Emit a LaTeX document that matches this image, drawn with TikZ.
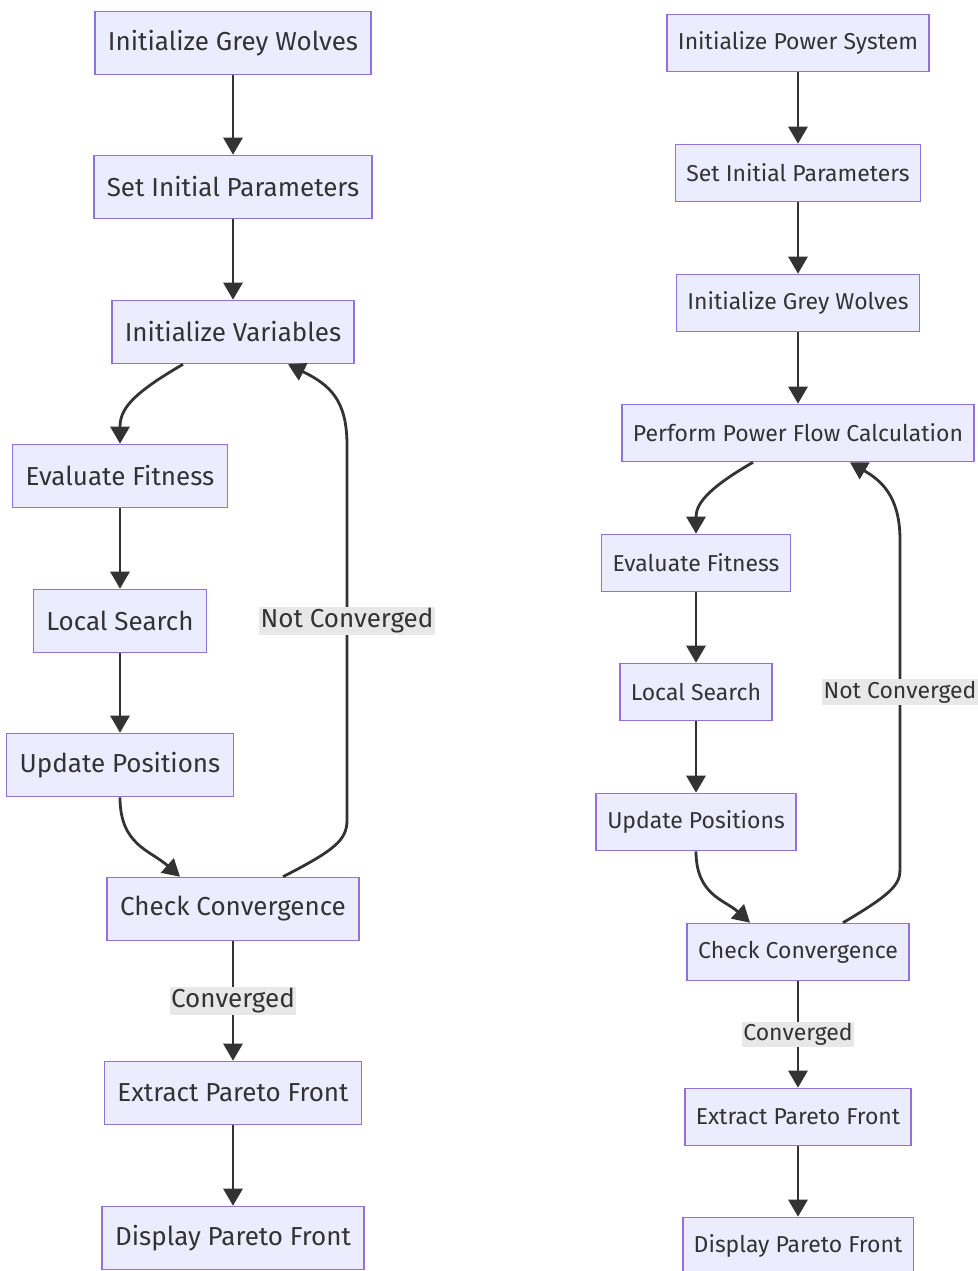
\documentclass[tikz,border=0pt]{standalone}
\usepackage{fontspec}
\setmainfont{Fira Sans}
\usepackage{tikz}
\usetikzlibrary{arrows.meta}
\usetikzlibrary{calc}
\usetikzlibrary{positioning}

\definecolor{boxfill}{HTML}{ECECFF}
\definecolor{boxline}{HTML}{9370DB}
\definecolor{ink}{HTML}{333333}
\definecolor{labelbg}{HTML}{E8E8E8}

\begin{document}
\begin{tikzpicture}[x=1pt,y=-1pt,>={Triangle[width=19pt,length=17pt]},
  box/.style={draw=boxline,fill=boxfill,line width=1.6pt,text=ink,inner xsep=13pt,minimum height=63pt,font=\fontsize{26}{30}\selectfont},
  rbox/.style={box,inner xsep=11pt,minimum height=57pt,font=\fontsize{23}{27}\selectfont},
  link/.style={->,draw=ink,line width=2.8pt},
  tag/.style={fill=labelbg,text=ink,inner sep=1.5pt,font=\fontsize{26}{30}\selectfont},
  rtag/.style={tag,font=\fontsize{23}{27}\selectfont}]
\useasboundingbox[fill=white] (0,0) rectangle (977,1271);

%left flowchart
\begin{scope}
\node[box] (l1) at (233,43) {Initialize Grey Wolves};
\node[box] (l2) at (233,187) {Set Initial Parameters};
\node[box] (l3) at (233,332) {Initialize Variables};
\node[box] (l4) at (120,476) {Evaluate Fitness};
\node[box] (l5) at (120,621) {Local Search};
\node[box] (l6) at (120,765) {Update Positions};
\node[box] (l7) at (233,909) {Check Convergence};
\node[box] (l8) at (233,1093) {Extract Pareto Front};
\node[box] (l9) at (233,1238) {Display Pareto Front};

\coordinate (lloopb) at (347,820);
\coordinate (lloopt) at (347,445);

\draw[link] (l1) -- (l2);
\draw[link] (l2) -- (l3);
\draw[link] ($(l3.south)+(-50,0)$) .. controls (130,395) and (120,410) .. (l4.north);
\draw[link] (l4) -- (l5);
\draw[link] (l5) -- (l6);
\draw[link] (l6.south) .. controls (120,845) and (150,850) .. ($(l7.north)+(-53,0)$);
%loop back
\draw[link] ($(l7.north)+(50,0)$) .. controls (335,850) and (347,840) .. (lloopb) -- (lloopt) .. controls (347,400) and (330,385) .. ($(l3.south)+(55,0)$);
\node[tag] (lnot) at (347,621) {Not Converged};
\draw[link] (l7) -- node[tag] (lyes) {Converged} (l8);
\draw[link] (l8) -- (l9);
\end{scope}

%right flowchart
\begin{scope}
\node[rbox] (r1) at (798,43) {Initialize Power System};
\node[rbox] (r2) at (798,173) {Set Initial Parameters};
\node[rbox] (r3) at (798,303) {Initialize Grey Wolves};
\node[rbox] (r4) at (798,433) {Perform Power Flow Calculation};
\node[rbox] (r5) at (696,563) {Evaluate Fitness};
\node[rbox] (r6) at (696,692) {Local Search};
\node[rbox] (r7) at (696,822) {Update Positions};
\node[rbox] (r8) at (798,952) {Check Convergence};
\node[rbox] (r9) at (798,1117) {Extract Pareto Front};
\node[rbox] (r10) at (798,1246) {Display Pareto Front};

\coordinate (rloopb) at (900,870);
\coordinate (rloopt) at (900,540);

\draw[link] (r1) -- (r2);
\draw[link] (r2) -- (r3);
\draw[link] (r3) -- (r4);
\draw[link] ($(r4.south)+(-45,0)$) .. controls (705,490) and (696,505) .. (r5.north);
\draw[link] (r5) -- (r6);
\draw[link] (r6) -- (r7);
\draw[link] (r7.south) .. controls (696,895) and (725,900) .. ($(r8.north)+(-48,0)$);
%loop back
\draw[link] ($(r8.north)+(45,0)$) .. controls (890,895) and (900,885) .. (rloopb) -- (rloopt) .. controls (900,495) and (880,480) .. ($(r4.south)+(52,0)$);
\node[rtag] (rnot) at (900,692) {Not Converged};
\draw[link] (r8) -- node[rtag] (ryes) {Converged} (r9);
\draw[link] (r9) -- (r10);
\end{scope}

\end{tikzpicture}
\end{document}
